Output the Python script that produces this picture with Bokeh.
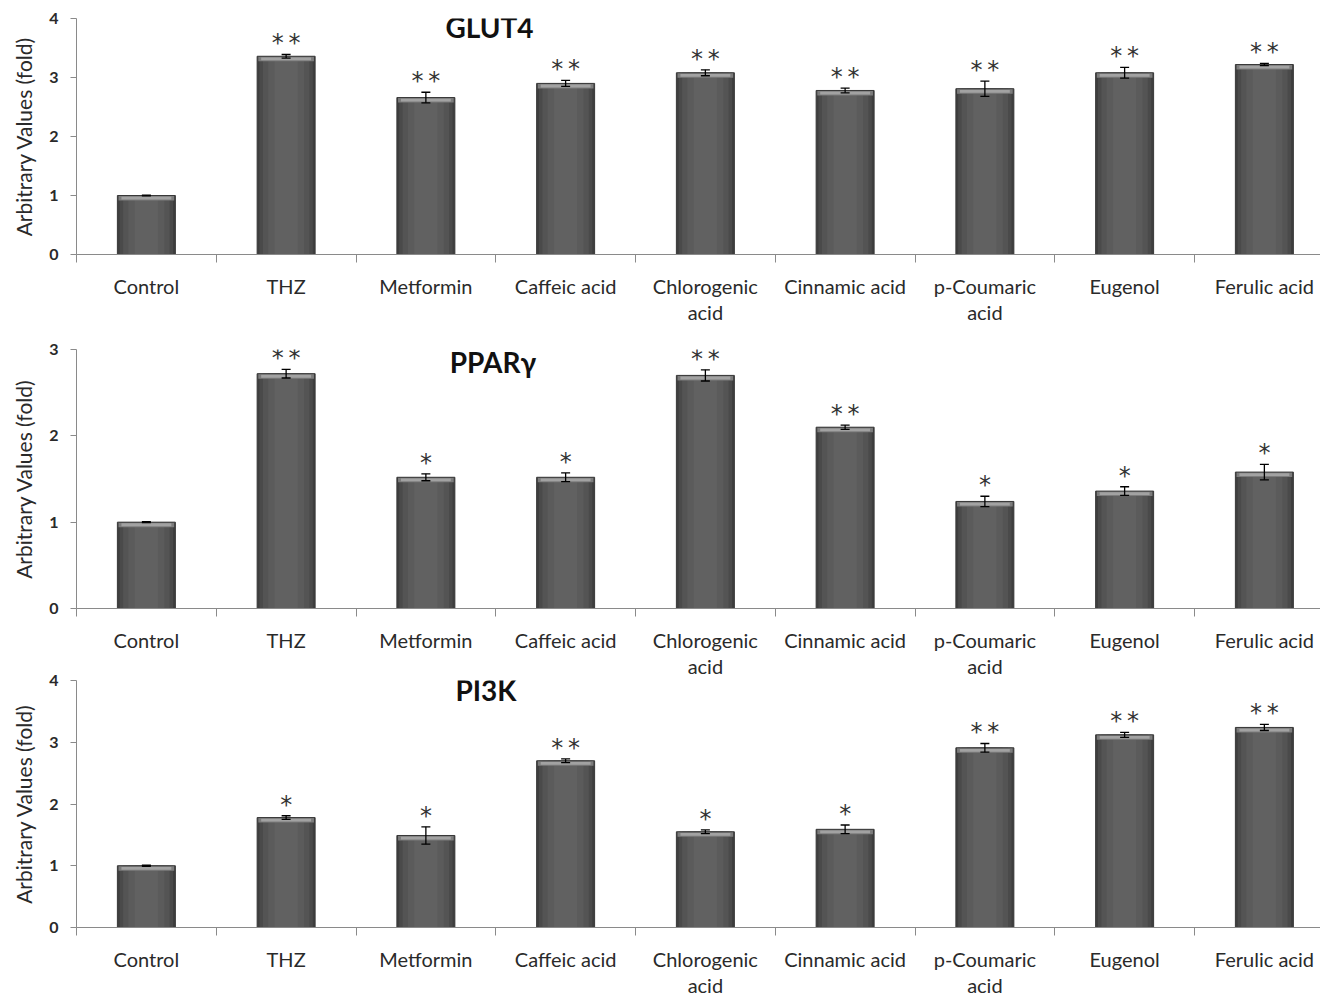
from bokeh.plotting import figure
from bokeh.layouts import column
from bokeh.models import Range1d, FixedTicker, ColumnDataSource, Whisker, TeeHead, Label
from bokeh.embed import file_html
from bokeh.resources import INLINE
from bokeh.core.properties import value

# ---------------- data ----------------
categories = ["Control", "THZ", "Metformin", "Caffeic acid", "Chlorogenic acid",
              "Cinnamic acid", "p-Coumaric acid", "Eugenol", "Ferulic acid"]
tick_labels = ["Control", "THZ", "Metformin", "Caffeic acid", "Chlorogenic\nacid",
               "Cinnamic acid", "p-Coumaric\nacid", "Eugenol", "Ferulic acid"]

glut4_mean = [1.00, 3.36, 2.66, 2.90, 3.08, 2.78, 2.81, 3.08, 3.22]
glut4_err = [0.008, 0.03, 0.09, 0.05, 0.05, 0.04, 0.13, 0.09, 0.02]
glut4_sig = ["", "**", "**", "**", "**", "**", "**", "**", "**"]

pparg_mean = [1.00, 2.72, 1.52, 1.52, 2.70, 2.10, 1.24, 1.36, 1.58]
pparg_err = [0.006, 0.05, 0.04, 0.05, 0.065, 0.025, 0.06, 0.05, 0.09]
pparg_sig = ["", "**", "*", "*", "**", "**", "*", "*", "*"]

pi3k_mean = [1.00, 1.78, 1.49, 2.70, 1.55, 1.59, 2.91, 3.12, 3.24]
pi3k_err = [0.008, 0.03, 0.14, 0.03, 0.03, 0.07, 0.07, 0.04, 0.05]
pi3k_sig = ["", "*", "*", "**", "*", "*", "**", "**", "**"]

y_label = "Arbitrary Values (fold)"

# ---------------- style ----------------
panels = [
    dict(title="GLUT4", mean=glut4_mean, err=glut4_err, sig=glut4_sig, ymax=4,
         height=338, bt=18, bb=84, tx=2.955, toff=8, margin=None),
    dict(title="PPARγ", mean=pparg_mean, err=pparg_err, sig=pparg_sig, ymax=3,
         height=345, bt=11, bb=75, tx=2.98, toff=12, margin=None),
    dict(title="PI3K", mean=pi3k_mean, err=pi3k_err, sig=pi3k_sig, ymax=4,
         height=330, bt=9, bb=74, tx=2.93, toff=9, margin=(-12, 0, 0, 0)),
]

WIDTH = 1320
BL = 76
XMAX = (WIDTH - BL) / 139.75
BAR_W = 0.415
AXIS_COLOR = "#8a8a8a"
TEXT_COLOR = "#2a2a2a"
shades = [(1.00, "#3e3e3e"), (0.92, "#4a4a4a"), (0.80, "#545454"),
          (0.62, "#5b5b5b"), (0.40, "#616161")]

figs = []
for pan in panels:
    n = len(categories)
    xs = [i + 0.5 for i in range(n)]
    frame_h = pan["height"] - pan["bt"] - pan["bb"]
    ppu = frame_h / pan["ymax"]
    mean = pan["mean"]
    err = pan["err"]
    src = ColumnDataSource(dict(
        x=xs,
        top=mean,
        upper=[m + e for m, e in zip(mean, err)],
        lower=[m - e for m, e in zip(mean, err)],
        cap1=[m - 5.0 / ppu for m in mean],
        cap2t=[m - 1.2 / ppu for m in mean],
        cap2b=[m - 4.0 / ppu for m in mean],
        sig=[s.replace("**", "*\u2009*") for s in pan["sig"]],
        cat=categories,
    ))

    kw = {}
    if pan["margin"] is not None:
        kw["margin"] = pan["margin"]
    p = figure(width=WIDTH, height=pan["height"],
               x_range=Range1d(0, XMAX), y_range=Range1d(0, pan["ymax"]),
               output_backend="svg", toolbar_location=None,
               min_border_left=BL, min_border_right=0,
               min_border_top=pan["bt"], min_border_bottom=pan["bb"], **kw)
    p.outline_line_color = None
    p.xgrid.visible = False
    p.ygrid.visible = False
    p.background_fill_color = "white"
    p.border_fill_color = None if pan["margin"] is not None else "white"

    # bars with cylinder-like shading
    for frac, col in shades:
        p.vbar(x="x", top="top", bottom=0, width=BAR_W * frac, source=src,
               fill_color=col, line_color=None)
    p.vbar(x="x", top="top", bottom="cap1", width=BAR_W * 0.96, source=src,
           fill_color="#7c7c7c", line_color=None)
    p.vbar(x="x", top="cap2t", bottom="cap2b", width=BAR_W * 0.86, source=src,
           fill_color="#a2a2a2", line_color=None)
    p.vbar(x="x", top="top", bottom=0, width=BAR_W, source=src,
           fill_color=None, line_color="#383838", line_width=1)

    # error bars
    wh = Whisker(base="x", upper="upper", lower="lower", source=src,
                 dimension="height", line_color="black", line_width=1.3,
                 upper_head=TeeHead(size=9, line_color="black", line_width=1.3),
                 lower_head=TeeHead(size=9, line_color="black", line_width=1.3),
                 level="annotation")
    p.add_layout(wh)

    # significance stars
    p.text(x="x", y="upper", text="sig", source=src, text_align="center",
           text_baseline="alphabetic", text_font=value("DejaVu Sans"),
           text_font_size="24px", text_color="#333333", y_offset=-11)

    # panel title
    p.add_layout(Label(x=pan["tx"], y=pan["ymax"] - pan["toff"] / ppu,
                       text=pan["title"], text_font="Lato", text_font_style="bold",
                       text_font_size="28px", text_align="center",
                       text_baseline="middle", text_color="#111111"))

    # y axis
    ya = p.yaxis[0]
    ya.ticker = FixedTicker(ticks=list(range(pan["ymax"] + 1)))
    ya.axis_label = y_label
    ya.axis_label_text_font = "Lato"
    ya.axis_label_text_font_style = "normal"
    ya.axis_label_text_font_size = "21px"
    ya.axis_label_text_color = TEXT_COLOR
    ya.axis_label_standoff = 10
    ya.major_label_text_font = "Lato"
    ya.major_label_text_font_style = "bold"
    ya.major_label_text_font_size = "16px"
    ya.major_label_text_color = TEXT_COLOR
    ya.major_label_standoff = 12
    ya.major_tick_out = 6
    ya.major_tick_in = 0
    ya.minor_tick_out = 0
    ya.minor_tick_in = 0
    ya.axis_line_color = AXIS_COLOR
    ya.major_tick_line_color = AXIS_COLOR

    # x axis
    xa = p.xaxis[0]
    xa.ticker = FixedTicker(ticks=xs, minor_ticks=list(range(n + 1)))
    xa.major_label_overrides = {x: lab for x, lab in zip(xs, tick_labels)}
    xa.major_label_text_font = "Lato"
    xa.major_label_text_font_size = "20px"
    xa.major_label_text_color = TEXT_COLOR
    xa.major_label_text_line_height = 1.1
    xa.major_label_standoff = 11
    xa.major_tick_out = 0
    xa.major_tick_in = 0
    xa.major_tick_line_color = None
    xa.minor_tick_out = 8
    xa.minor_tick_in = 0
    xa.minor_tick_line_color = AXIS_COLOR
    xa.axis_line_color = AXIS_COLOR

    figs.append(p)

layout = column(*figs, spacing=0)
open("out.html", "w").write(file_html(layout, INLINE, "Gene expression"))
